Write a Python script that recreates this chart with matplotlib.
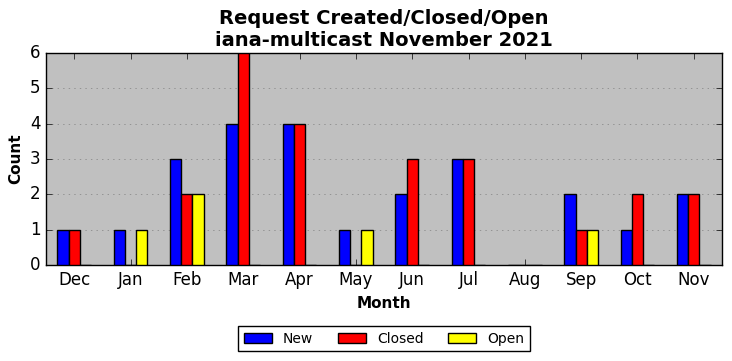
import matplotlib
matplotlib.use('Agg')
import matplotlib.pyplot as plt
import numpy as np

# datos del grafico
meses = ['Dec', 'Jan', 'Feb', 'Mar', 'Apr', 'May', 'Jun', 'Jul', 'Aug', 'Sep', 'Oct', 'Nov']
nuevos = [1, 1, 3, 4, 4, 1, 2, 3, 0, 2, 1, 2]
cerrados = [1, 0, 2, 6, 4, 0, 3, 3, 0, 1, 2, 2]
abiertos = [0, 1, 2, 0, 0, 1, 0, 0, 0, 1, 0, 0]

plt.style.use('classic')
fig = plt.figure(figsize=(7.32, 3.61), dpi=100)
ax = fig.add_axes([46/732, 1 - 265/361, 676/732, 212/361])
ax.set_facecolor('#c0c0c0')

x = np.arange(len(meses))
w = 0.2
ax.bar(x - w, nuevos, w, color='blue', edgecolor='black', label='New', zorder=3)
ax.bar(x, cerrados, w, color='red', edgecolor='black', label='Closed', zorder=3)
ax.bar(x + w, abiertos, w, color='yellow', edgecolor='black', label='Open', zorder=3)

ax.set_xlim(-0.5, 11.5)
ax.set_ylim(0, 6)
ax.set_xticks(x)
ax.set_xticklabels(meses, fontsize=12)
ax.set_yticks(range(7))
ax.tick_params(axis='y', labelsize=12)
ax.yaxis.grid(True, linestyle=':', color='gray', zorder=0)
ax.set_axisbelow(True)

ax.set_xlabel('Month', fontsize=11, fontweight='bold')
ax.set_ylabel('Count', fontsize=11, fontweight='bold')
ax.set_title('Request Created/Closed/Open\niana-multicast November 2021', fontsize=14, fontweight='bold')

# leyenda centrada bajo los ejes
ax.legend(loc='upper center', ncol=3, fontsize=10, bbox_to_anchor=(0.5, -0.255),
          frameon=True, fancybox=False, edgecolor='black', handlelength=2.0, columnspacing=1.8)

fig.savefig('out.png', dpi=100, facecolor='white')
